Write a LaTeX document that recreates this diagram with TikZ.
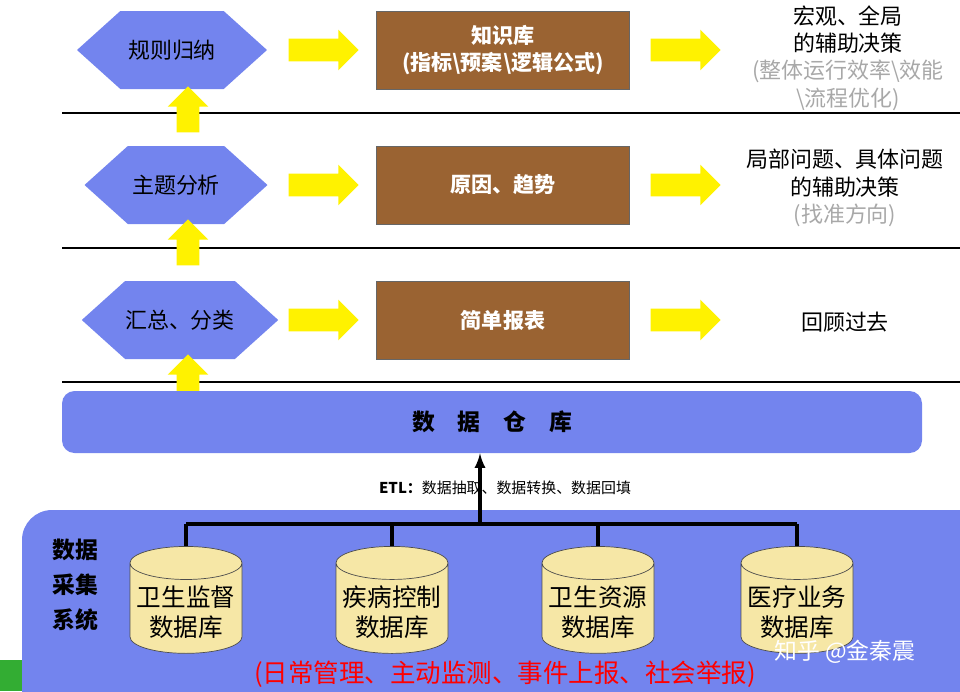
\documentclass[tikz,border=0pt]{standalone}
\usepackage{fontspec}
\setmainfont{Noto Sans CJK SC}
\usetikzlibrary{shapes.symbols,shapes.arrows,shapes.geometric,positioning}
\definecolor{hexblue}{HTML}{7384EE}
\definecolor{boxbrown}{HTML}{9A6332}
\definecolor{canyellow}{HTML}{F6E7A6}
\definecolor{greyfont}{HTML}{A8A8A8}
\tikzset{
  hexa/.style={shape=signal, signal to=west and east, signal pointer angle=84,
    fill=hexblue, minimum height=78*0.02cm, inner sep=0pt, font=\fontsize{12.5pt}{14pt}\selectfont},
  brownbox/.style={fill=boxbrown, draw=black!60, minimum width=253*0.02cm, minimum height=78*0.02cm,
    text=white, font=\fontsize{12pt}{15pt}\selectfont\bfseries, align=center},
  yright/.style={single arrow, fill=yellow, minimum height=70*0.02cm, inner xsep=0pt, inner ysep=0.22cm,
    single arrow head extend=0.18cm, single arrow head indent=0pt},
  yup/.style={yright, shape border rotate=90, minimum height=46*0.02cm, inner xsep=0.22cm, inner ysep=0pt},
  sidetext/.style={align=center, font=\fontsize{12.5pt}{15.5pt}\selectfont},
  dbase/.style={cylinder, shape border rotate=90, aspect=0.3, draw=black!70, fill=canyellow,
    minimum width=112*0.02cm, minimum height=100*0.02cm, align=center,
    font=\fontsize{14pt}{17pt}\selectfont}
}
\begin{document}
\begin{tikzpicture}[x=0.02cm,y=-0.02cm]
\useasboundingbox (0,0) rectangle (960,691);
% bottom area
\fill[green!60!black!80] (0,660) rectangle (40,691);
\fill[hexblue, rounded corners=0.6cm] (22,510) rectangle (990,720);
\node[font=\fontsize{13pt}{20pt}\selectfont\bfseries, align=center] (sys) at (75,585) {数据\\采集\\系统};
% levels
\foreach \yy/\ww/\xx/\hname/\btext in {50/190/172/规则归纳/{知识库\\(指标\textbackslash 预案\textbackslash 逻辑公式)},
    185/183/176/主题分析/{原因、趋势}, 320/175/180/{汇总、分类}/简单报表}{
  \node[hexa, minimum width=\ww*0.02cm] (h\yy) at (\xx,\yy) {\hname};
  \node[brownbox] (b\yy) at (503,\yy) {\btext};
  \node[yright] (ra\yy) at (318,\yy) {};
  \node[yright] (rb\yy) at (680,\yy) {};
}
\foreach \yy in {113,248,382}
  \draw[line width=1.5pt] (62,\yy) -- (960,\yy);
\node[yup] (u1) at (188,115) {};
\node[yup] (u2) at (188,248) {};
\node[yup] (u3) at (188,383) {};
\node[sidetext] (t1) at (848,58) {宏观、全局\\的辅助决策\\\textcolor{greyfont}{(整体运行效率\textbackslash 效能}\\\textcolor{greyfont}{\textbackslash 流程优化)}};
\node[sidetext] (t2) at (845,188) {局部问题、具体问题\\的辅助决策\\\textcolor{greyfont}{(找准方向)}};
\node[sidetext] (t3) at (845,322) {回顾过去};
% warehouse
\node[fill=hexblue, rounded corners=0.25cm, minimum width=860*0.02cm, minimum height=62*0.02cm,
  font=\fontsize{13pt}{15pt}\selectfont\bfseries] (dw) at (492,422) {数\hspace{1em}据\hspace{1em}仓\hspace{1em}库};
\coordinate (bus) at (480,524);
\draw[-latex, line width=1.8pt] (bus) -- (dw.south -| bus);
\node[font=\fontsize{8.5pt}{10pt}\selectfont] (etl) at (505,488) {\textbf{ETL：}数据抽取、数据转换、数据回填};
% databases
\foreach \xx/\dname in {186/卫生监督, 392/疾病控制, 598/卫生资源, 797/医疗业务}{
  \node[dbase] (db\xx) at (\xx,612) {\dname\\数据库};
  \draw[line width=1.8pt] (db\xx.north) -- (bus -| db\xx.north);
}
\draw[line width=1.8pt] (db186.north |- bus) -- (db797.north |- bus);
\node[text=red, font=\fontsize{14.5pt}{16pt}\selectfont] (src) at (505,674) {(日常管理、主动监测、事件上报、社会举报)};
\node[text=white, font=\fontsize{13pt}{15pt}\selectfont] (wm) at (845,652) {知乎 @金秦震};
\end{tikzpicture}
\end{document}
